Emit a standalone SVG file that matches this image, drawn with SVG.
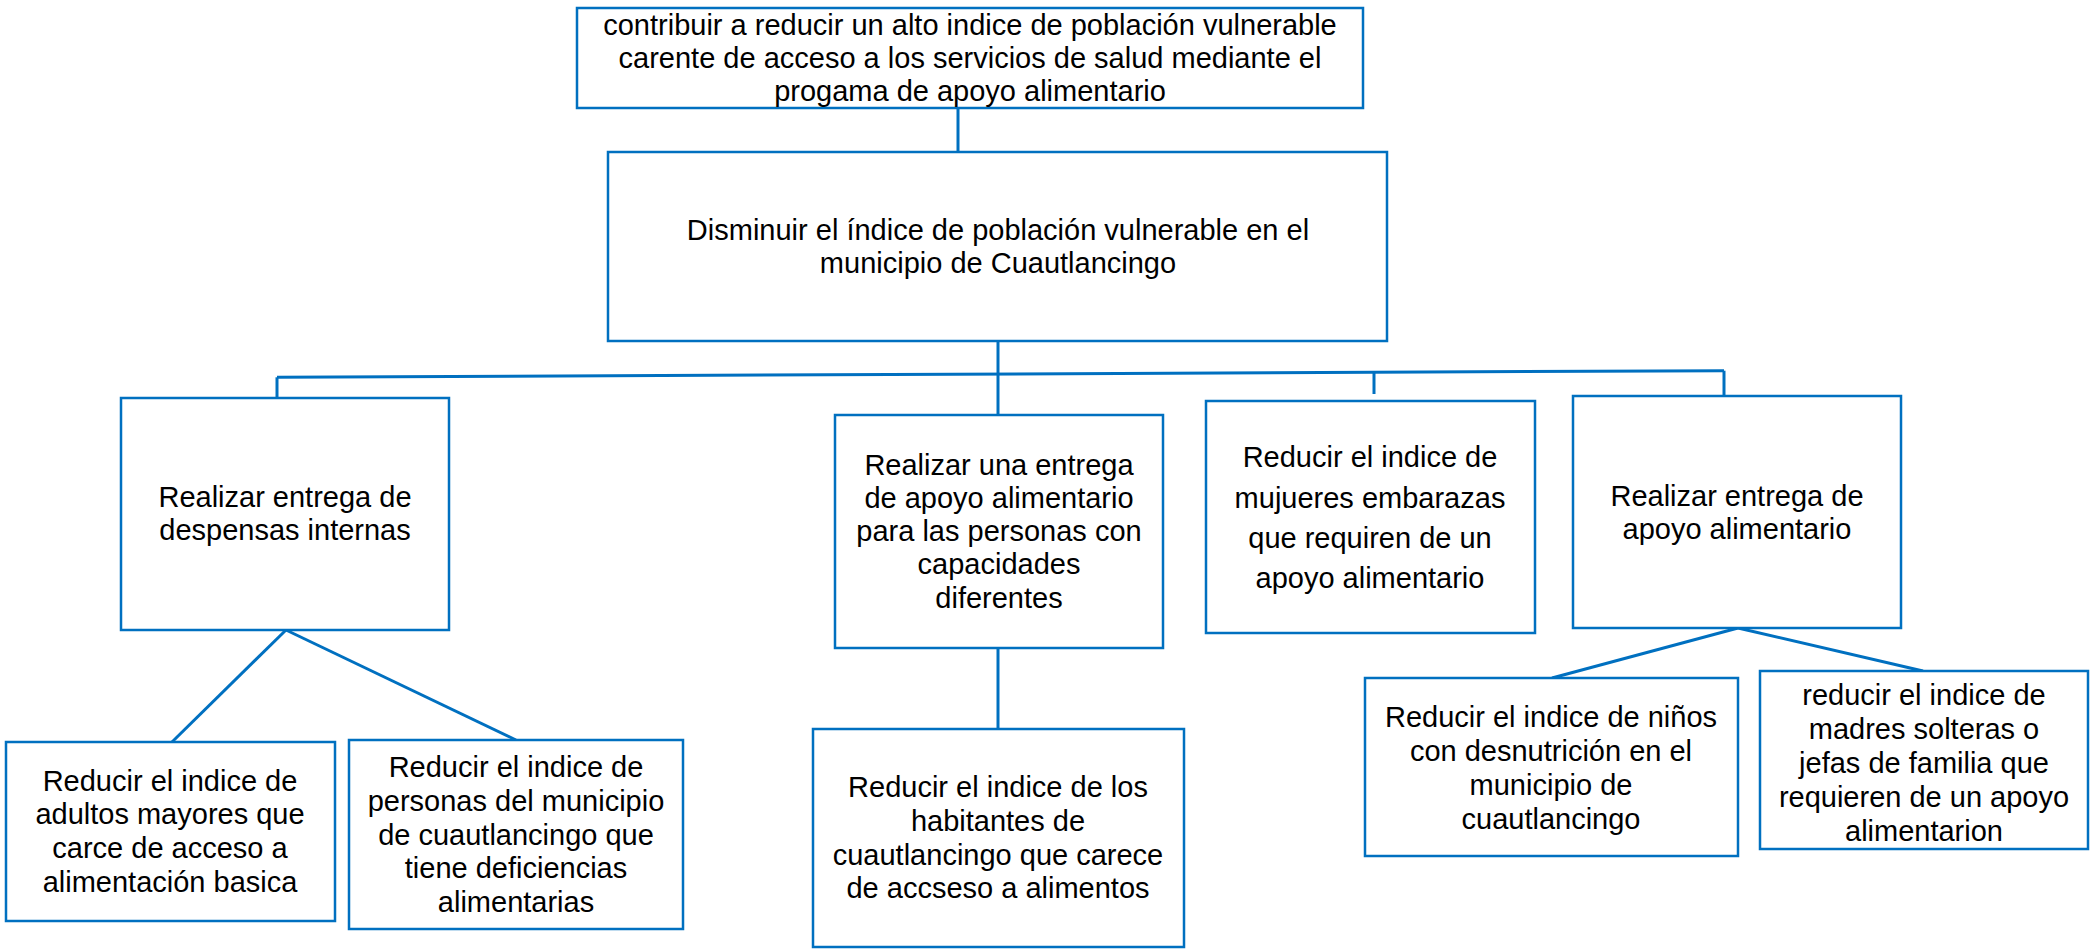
<svg xmlns="http://www.w3.org/2000/svg" width="2094" height="949" viewBox="0 0 2094 949">
<style>
.box{fill:#fff;stroke:#0070C0;stroke-width:2.5}
.c{fill:none;stroke:#0070C0;stroke-width:3}
text{font-family:"Liberation Sans",Arial,sans-serif;font-size:29px;fill:#000;text-anchor:middle}
</style>
<rect width="2094" height="949" fill="#fff"/>
<g id="connectors">
<line class="c" x1="958" y1="108" x2="958" y2="157"/>
<line class="c" x1="998" y1="341" x2="998" y2="415"/>
<line class="c" x1="277" y1="377.3" x2="1724" y2="370.7"/>
<polyline class="c" points="277,398 277,377.3"/>
<line class="c" x1="1374" y1="372.5" x2="1374" y2="394"/>
<line class="c" x1="1724" y1="370.7" x2="1724" y2="396"/>
<line class="c" x1="286" y1="630" x2="172" y2="742"/>
<line class="c" x1="286" y1="630" x2="516" y2="740"/>
<line class="c" x1="998" y1="648" x2="998" y2="729"/>
<line class="c" x1="1738" y1="628" x2="1552" y2="678"/>
<line class="c" x1="1738" y1="628" x2="1923" y2="671"/>
</g>
<g id="n-top">
<rect class="box" x="577" y="8" width="786" height="100"/>
<text x="970" y="35">contribuir a reducir un alto indice de población vulnerable</text>
<text x="970" y="68">carente de acceso a los servicios de salud mediante el</text>
<text x="970" y="101">progama de apoyo alimentario</text>
</g>
<g id="n-disminuir">
<rect class="box" x="608" y="152" width="779" height="189"/>
<text x="998" y="240">Disminuir el índice de población vulnerable en el</text>
<text x="998" y="273">municipio de Cuautlancingo</text>
</g>
<g id="n-a">
<rect class="box" x="121" y="398" width="328" height="232"/>
<text x="285" y="507">Realizar entrega de</text>
<text x="285" y="540">despensas internas</text>
</g>
<g id="n-b">
<rect class="box" x="835" y="415" width="328" height="233"/>
<text x="999" y="475">Realizar una entrega</text>
<text x="999" y="508">de apoyo alimentario</text>
<text x="999" y="541">para las personas con</text>
<text x="999" y="574">capacidades</text>
<text x="999" y="608">diferentes</text>
</g>
<g id="n-c">
<rect class="box" x="1206" y="401" width="329" height="232"/>
<text x="1370" y="467">Reducir el indice de</text>
<text x="1370" y="508">mujueres embarazas</text>
<text x="1370" y="548">que requiren de un</text>
<text x="1370" y="588">apoyo alimentario</text>
</g>
<g id="n-d">
<rect class="box" x="1573" y="396" width="328" height="232"/>
<text x="1737" y="506">Realizar entrega de</text>
<text x="1737" y="539">apoyo alimentario</text>
</g>
<g id="n-e">
<rect class="box" x="6" y="742" width="329" height="179"/>
<text x="170" y="791">Reducir el indice de</text>
<text x="170" y="824">adultos mayores que</text>
<text x="170" y="858">carce de acceso a</text>
<text x="170" y="892">alimentación basica</text>
</g>
<g id="n-f">
<rect class="box" x="349" y="740" width="334" height="189"/>
<text x="516" y="777">Reducir el indice de</text>
<text x="516" y="811">personas del municipio</text>
<text x="516" y="845">de cuautlancingo que</text>
<text x="516" y="878">tiene deficiencias</text>
<text x="516" y="912">alimentarias</text>
</g>
<g id="n-g">
<rect class="box" x="813" y="729" width="371" height="218"/>
<text x="998" y="797">Reducir el indice de los</text>
<text x="998" y="831">habitantes de</text>
<text x="998" y="865">cuautlancingo que carece</text>
<text x="998" y="898">de accseso a alimentos</text>
</g>
<g id="n-h">
<rect class="box" x="1365" y="678" width="373" height="178"/>
<text x="1551" y="727">Reducir el indice de niños</text>
<text x="1551" y="761">con desnutrición en el</text>
<text x="1551" y="795">municipio de</text>
<text x="1551" y="829">cuautlancingo</text>
</g>
<g id="n-i">
<rect class="box" x="1760" y="671" width="328" height="178"/>
<text x="1924" y="705">reducir el indice de</text>
<text x="1924" y="739">madres solteras o</text>
<text x="1924" y="773">jefas de familia que</text>
<text x="1924" y="807">requieren de un apoyo</text>
<text x="1924" y="841">alimentarion</text>
</g>
</svg>
